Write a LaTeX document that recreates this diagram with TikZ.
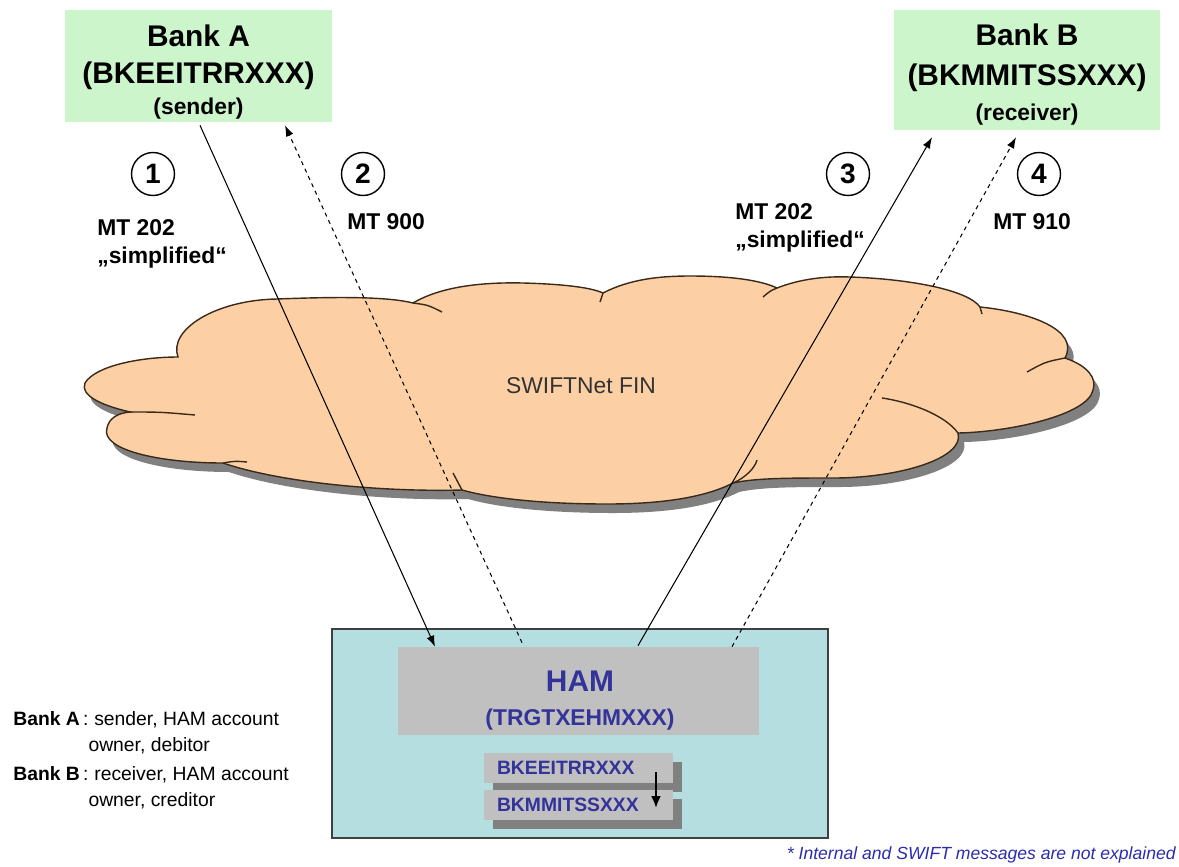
\documentclass[tikz,border=0pt]{standalone}
\usepackage{fontspec}
\setmainfont{Liberation Sans}
\usetikzlibrary{arrows.meta,shadows}

\definecolor{bankgreen}{HTML}{CCF5CC}
\definecolor{cloudfill}{HTML}{FCD0A4}
\definecolor{cloudedge}{HTML}{3A2A1A}
\definecolor{hamcyan}{HTML}{B4DEE0}
\definecolor{hamgray}{HTML}{C0C0C0}
\definecolor{acctshadow}{HTML}{808080}
\definecolor{hamblue}{HTML}{333399}
\definecolor{noteblue}{HTML}{2B2BB0}

\newcommand{\sz}[2]{\fontsize{#1}{#2}\selectfont}
\newcommand{\cloudoutline}{(85,383)
  .. controls (95,366) and (140,357) .. (178,357)
  .. controls (168,330) and (215,300) .. (277,299)
  .. controls (330,297) and (385,296) .. (413,303)
  .. controls (440,287) and (480,282) .. (523,283)
  .. controls (560,284) and (590,287) .. (603,293)
  .. controls (630,279) and (660,276) .. (690,276)
  .. controls (730,276) and (760,280) .. (777,288)
  .. controls (800,279) and (825,276) .. (850,277)
  .. controls (910,279) and (968,290) .. (980,307)
  .. controls (1030,312) and (1080,330) .. (1065,358)
  .. controls (1088,366) and (1097,378) .. (1093,390)
  .. controls (1088,415) and (1010,432) .. (958,433)
  .. controls (965,458) and (900,478) .. (833,478)
  .. controls (790,478) and (755,478) .. (733,483)
  .. controls (700,500) and (650,504) .. (607,504)
  .. controls (540,504) and (490,498) .. (462,490)
  .. controls (390,492) and (285,484) .. (223,463)
  .. controls (160,463) and (100,450) .. (107,428)
  .. controls (109,418) and (118,413) .. (130,412)
  .. controls (100,405) and (80,395) .. (85,383) -- cycle}

\tikzset{
  bank/.style={rectangle, fill=bankgreen, align=center, inner sep=0pt},
  num/.style={circle, draw, line width=0.8pt, minimum size=0.86cm, inner sep=0pt, font=\sz{16}{19}\bfseries},
  msg/.style={align=left, anchor=west, inner sep=0pt, font=\sz{13}{16}\bfseries},
  cloudline/.style={draw=cloudedge, line width=0.8pt},
  flow/.style={line width=0.6pt, -{Latex[length=2.2mm,width=1.6mm]}},
  ack/.style={flow, dash pattern=on 2.3pt off 2.3pt},
  acct/.style={rectangle, fill=hamgray, text width=3.26cm, inner xsep=0.26cm, minimum height=0.6cm,
    align=left, text=hamblue, font=\sz{11}{13}\bfseries,
    drop shadow={shadow xshift=0.18cm, shadow yshift=-0.18cm, fill=acctshadow, opacity=1}},
  legend/.style={anchor=west, inner sep=0pt, font=\sz{11}{14.7}}
}

\begin{document}
\begin{tikzpicture}[x=0.02cm, y=-0.02cm]
  \useasboundingbox (0,0) rectangle (1179,866);

  % the two banks
  \node[bank, font=\sz{17}{21}\bfseries, minimum width=5.34cm, minimum height=2.24cm] (bankA) at (198.5,66)
    {\rule{0pt}{19.3pt}Bank A\\(BKEEITRRXXX)\\[-3.4pt]{\sz{13}{16}(sender)}};
  \node[bank, font=\sz{17}{22.5}\bfseries, minimum width=5.32cm, minimum height=2.4cm] (bankB) at (1027,70)
    {\rule{0pt}{17.5pt}Bank B\\(BKMMITSSXXX)\\[-2.5pt]{\sz{13}{16}(receiver)}};

  % message steps
  \node[num] (n1) at (153,174) {1};
  \node[num] (n2) at (363,174) {2};
  \node[num] (n3) at (848,174) {3};
  \node[num] (n4) at (1039,174) {4};
  \node[msg] (m1) at (97,244) {MT 202\\„simplified“};
  \node[msg] (m2) at (347,222) {MT 900};
  \node[msg] (m3) at (735,227.5) {MT 202\\„simplified“};
  \node[msg] (m4) at (993,222) {MT 910};

  % SWIFTNet cloud
  \fill[black!50, shift={(6,9)}] \cloudoutline;
  \filldraw[fill=cloudfill, cloudline] \cloudoutline;
  \draw[cloudline] (413,303) .. controls (428,305) .. (442,312);
  \draw[cloudline] (603,293) .. controls (601,297) .. (600,302);
  \draw[cloudline] (777,288) .. controls (770,291) .. (763,297);
  \draw[cloudline] (980,307) .. controls (981,310) .. (982,314);
  \draw[cloudline] (1065,358) .. controls (1045,362) .. (1027,372);
  \draw[cloudline] (958,433) .. controls (945,415) and (910,402) .. (882,398);
  \draw[cloudline] (733,483) .. controls (745,478) and (755,468) .. (757,460);
  \draw[cloudline] (462,490) .. controls (458,482) .. (453,473);
  \draw[cloudline] (223,463) .. controls (235,461) .. (247,462);
  \draw[cloudline] (130,412) .. controls (160,412) .. (195,415);
  \node[font=\sz{13}{16}, text=black!80] (swift) at (581,386) {SWIFTNet FIN};

  % HAM
  \node[rectangle, draw=black!75, fill=hamcyan, line width=0.8pt,
    minimum width=9.92cm, minimum height=4.18cm] (hambox) at (580,733.5) {};
  \node[rectangle, fill=hamgray, minimum width=7.22cm, minimum height=1.76cm] (ham) at (578.5,691) {};
  \node[align=center, text=hamblue, font=\sz{17}{19.3}\bfseries] (hamname) at (580,701)
    {HAM\\{\sz{13}{16}(TRGTXEHMXXX)}};
  \node[acct] (acct1) at (578.5,768) {BKEEITRRXXX};
  \node[acct] (acct2) at (578.5,805) {BKMMITSSXXX};
  \draw[line width=1.3pt, -{Latex[length=2.4mm,width=2mm]}]
    ([xshift=1.55cm,yshift=-0.08cm]acct1.center) -- ([xshift=1.55cm,yshift=-0.06cm]acct2.center);

  % messages through the network
  \draw[flow] ([xshift=0.03cm,yshift=-0.06cm]bankA.south) -- ([xshift=-2.87cm]ham.north);
  \draw[ack] ([xshift=-1.13cm,yshift=0.08cm]ham.north) -- ([xshift=1.73cm,yshift=-0.06cm]bankA.south);
  \draw[flow] ([xshift=1.19cm,yshift=0.02cm]ham.north) -- ([xshift=-1.9cm,yshift=-0.14cm]bankB.south);
  \draw[ack] ([xshift=3.07cm]ham.north) -- ([xshift=-0.22cm,yshift=-0.14cm]bankB.south);

  % legend and note
  \node[legend] (legA) at (13,733)
    {\begin{tabular}{@{}l@{}l@{}}\textbf{Bank A}\,: & \hspace{0.3em}sender, HAM account\\ & owner, debitor\end{tabular}};
  \node[legend] (legB) at (13,788)
    {\begin{tabular}{@{}l@{}l@{}}\textbf{Bank B}\,: & \hspace{0.3em}receiver, HAM account\\ & owner, creditor\end{tabular}};
  \node[anchor=east, inner sep=0pt, font=\sz{10}{12}\itshape, text=noteblue] (note) at (1176,855)
    {* Internal and SWIFT messages are not explained};
\end{tikzpicture}
\end{document}
